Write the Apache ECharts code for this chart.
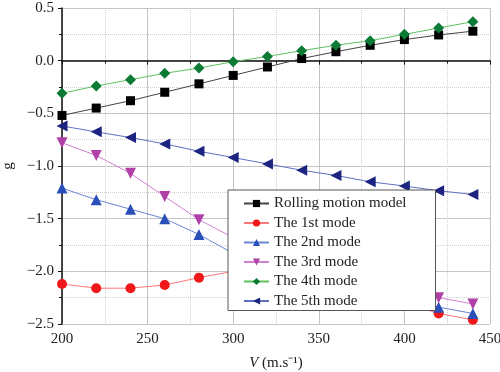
<!DOCTYPE html>
<html><head><meta charset="utf-8">
<script src="https://cdn.jsdelivr.net/npm/echarts@6/dist/echarts.min.js"></script>
<style>html,body{margin:0;padding:0;background:#fff}#c{width:500px;height:372px}</style>
</head><body><div id="c"></div>
<script>
var speeds = [200, 220, 240, 260, 280, 300, 320, 340, 360, 380, 400, 420, 440];
var rolling = [-0.52, -0.45, -0.38, -0.30, -0.22, -0.14, -0.06, 0.02, 0.085, 0.146, 0.20, 0.244, 0.28];
var mode1 = [-2.12, -2.16, -2.16, -2.13, -2.06, -2.00, -2.01, -2.05, -2.12, -2.20, -2.30, -2.40, -2.46];
var mode2 = [-1.21, -1.32, -1.41, -1.50, -1.65, -1.83, -1.95, -2.05, -2.14, -2.22, -2.28, -2.34, -2.40];
var mode3 = [-0.78, -0.90, -1.07, -1.29, -1.51, -1.68, -1.82, -1.94, -2.04, -2.12, -2.19, -2.25, -2.31];
var mode4 = [-0.31, -0.24, -0.18, -0.12, -0.07, -0.01, 0.04, 0.095, 0.146, 0.19, 0.25, 0.31, 0.37];
var mode5 = [-0.62, -0.676, -0.73, -0.79, -0.86, -0.92, -0.98, -1.04, -1.09, -1.15, -1.19, -1.235, -1.27];
var names = ['Rolling motion model', 'The 1st mode', 'The 2nd mode', 'The 3rd mode', 'The 4th mode', 'The 5th mode'];

function pairs(v) { return speeds.map(function (s, i) { return [s, v[i]]; }); }
var font = 'Liberation Serif, Times New Roman, serif';
function mk(name, data, sym, rot, size, mc, lc) {
  return {
    name: name, type: 'line', data: pairs(data), symbol: sym, symbolRotate: rot, symbolSize: size,
    itemStyle: { color: mc }, lineStyle: { color: lc, width: 1 }, emphasis: { disabled: true }
  };
}
var chart = echarts.init(document.getElementById('c'));
chart.setOption({
  animation: false,
  textStyle: { fontFamily: font },
  grid: { left: 62, right: 10, top: 8, bottom: 48, containLabel: false, outerBoundsMode: 'none' },
  legend: {
    orient: 'vertical', left: 228, top: 190,
    padding: [6, 29, 2, 15], itemGap: 4.5, itemWidth: 25, itemHeight: 9,
    backgroundColor: '#fff', borderColor: '#555', borderWidth: 1,
    textStyle: { fontFamily: font, fontSize: 15, color: '#222' },
    data: names
  },
  xAxis: {
    type: 'value', min: 200, max: 450, interval: 50,
    name: '{i|V} (m.s⁻¹)', nameLocation: 'middle', nameGap: 32,
    nameTextStyle: { fontFamily: font, fontSize: 15, color: '#222', rich: { i: { fontStyle: 'italic', fontFamily: font, fontSize: 15, color: '#222' } } },
    axisLine: { lineStyle: { color: '#111', width: 1.5 } },
    axisTick: { show: true, length: 4, lineStyle: { color: '#111' } },
    minorTick: { show: true, splitNumber: 2, length: 3, lineStyle: { color: '#111' } },
    axisLabel: { fontFamily: font, fontSize: 15, color: '#222', margin: 8 },
    splitLine: { show: true, lineStyle: { color: '#c4c4c4', width: 1 } },
    minorSplitLine: { show: true, lineStyle: { color: '#d0d0d0', type: 'dotted', width: 1 } }
  },
  yAxis: {
    type: 'value', min: -2.5, max: 0.5, interval: 0.5,
    name: 'g', nameLocation: 'middle', nameGap: 44,
    nameTextStyle: { fontFamily: font, fontSize: 15, color: '#222' },
    axisLine: { show: true, lineStyle: { color: '#111', width: 1.5 } },
    axisTick: { show: true, length: 4, lineStyle: { color: '#111' } },
    minorTick: { show: true, splitNumber: 2, length: 3, lineStyle: { color: '#111' } },
    axisLabel: { fontFamily: font, fontSize: 15, color: '#222', margin: 8,
      formatter: function (v) { return v.toFixed(1).replace('-', '\u2212'); } },
    splitLine: { show: true, lineStyle: { color: '#c4c4c4', width: 1 } },
    minorSplitLine: { show: true, lineStyle: { color: '#d0d0d0', type: 'dotted', width: 1 } }
  },
  series: [
    mk(names[0], rolling, 'rect', 0, 9, '#000', '#444'),
    mk(names[1], mode1, 'circle', 0, 10, '#f01818', '#f77'),
    mk(names[2], mode2, 'triangle', 0, 11, '#2a4fb8', '#6a85d4'),
    mk(names[3], mode3, 'triangle', 180, 11, '#b040a8', '#d080d0'),
    mk(names[4], mode4, 'diamond', 0, 11, '#0a7a35', '#60c060'),
    mk(names[5], mode5, 'triangle', 90, 11, '#1c2380', '#6070c0')
  ]
});
</script></body></html>
